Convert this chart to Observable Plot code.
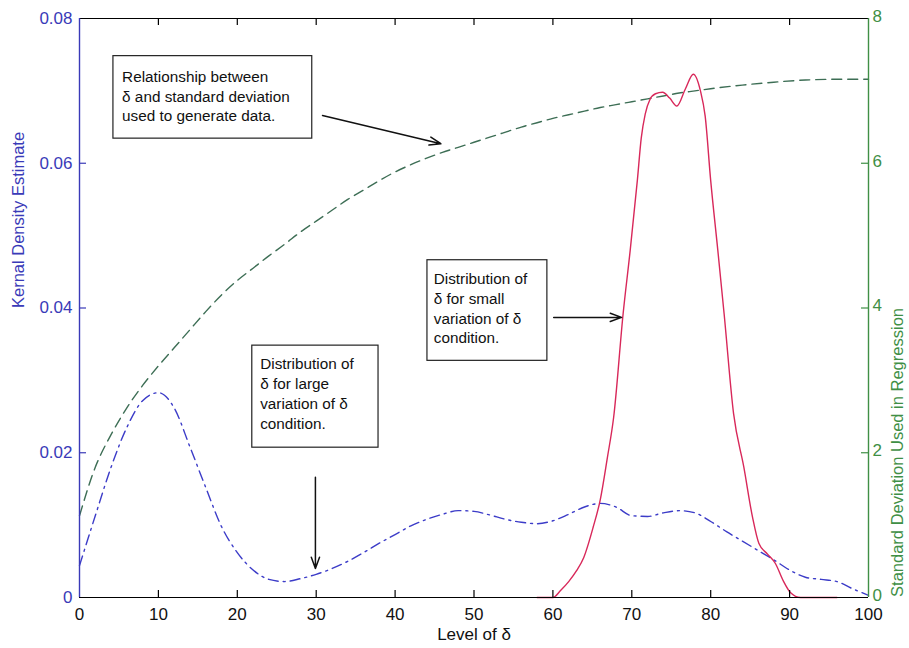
<!DOCTYPE html>
<html><head><meta charset="utf-8">
<script src="https://cdn.jsdelivr.net/npm/d3@7"></script>
<script src="https://cdn.jsdelivr.net/npm/@observablehq/plot@0.6"></script>
<style>body{margin:0;background:#fff} #chart svg{overflow:visible;display:block}</style>
</head><body><div id="chart"></div>
<script>
// ---- data ----
const xTicks = [0,10,20,30,40,50,60,70,80,90,100];
const leftTicks = [0,0.02,0.04,0.06,0.08];
const rightTicks = [0,2,4,6,8];

const greenX = [0,2,4,6,8,10,12,14,16,18,20,22,24,26,28,30,32,34,36,38,40,42,44,46,48,50,52,54,56,58,60,62,64,66,68,70,72,74,76,78,80,84,88,92,96,100];
const greenSD = [1.13,1.8,2.25,2.62,2.93,3.2,3.45,3.7,3.95,4.18,4.38,4.55,4.72,4.88,5.05,5.2,5.35,5.5,5.63,5.76,5.88,5.98,6.07,6.15,6.22,6.29,6.36,6.43,6.5,6.56,6.62,6.67,6.72,6.77,6.81,6.85,6.89,6.93,6.97,7.0,7.03,7.08,7.12,7.15,7.16,7.16];

const blueX = [0,2,4,6,8,10,12,14,16,18,20,22,24,26,28,30,32,34,36,38,40,42,44,46,48,50,52,54,56,58,60,62,64,66,68,70,72,74,76,78,80,82,84,86,88,90,92,94,96,98,100];
const blueY = [0.0044,0.0113,0.018,0.0235,0.0272,0.0283,0.0262,0.0208,0.0152,0.0098,0.0062,0.0038,0.0025,0.0022,0.0026,0.0032,0.0040,0.0050,0.0062,0.0075,0.0087,0.0099,0.0108,0.0115,0.0120,0.0119,0.0114,0.0108,0.0104,0.0102,0.0106,0.0115,0.0125,0.0130,0.0125,0.0113,0.0112,0.0117,0.0120,0.0117,0.0105,0.0091,0.0078,0.0065,0.0052,0.0038,0.0028,0.0025,0.0022,0.0012,0.0003];

const redX = [58,60,61,62,63,63.9,65.1,66,66.9,67.7,68.9,69.8,70.7,71.2,71.7,72.3,73,73.9,74.8,75.7,76.8,77.8,78.7,79.3,80,80.9,81.7,82.9,84.2,85.3,86.1,87.2,88.2,89.2,90.1,91.4,96];
const redY = [0,0,0.001,0.0022,0.0037,0.0055,0.0097,0.0135,0.0193,0.0249,0.0392,0.048,0.0576,0.0635,0.0668,0.0688,0.0696,0.0698,0.0690,0.0679,0.0703,0.0723,0.0700,0.0665,0.0576,0.048,0.0392,0.0254,0.018,0.0111,0.0075,0.006,0.0047,0.0023,0.0007,0,0];

// annotations (data units)
const boxes = [
  {x1: 4.3, x2: 29.5, y1: 0.0634, y2: 0.0748},
  {x1: 44.1, x2: 59.3, y1: 0.0327, y2: 0.0466},
  {x1: 21.9, x2: 37.9, y1: 0.0207, y2: 0.0348}
];
const notes = [
  {x: 5.4, y: 0.0694, text: "Relationship between\nδ and standard deviation\nused to generate data."},
  {x: 44.9, y: 0.0401, text: "Distribution of\nδ for small\nvariation of δ\ncondition."},
  {x: 22.9, y: 0.0283, text: "Distribution of\nδ for large\nvariation of δ\ncondition."}
];
const arrows = [
  {x1: 30.8, y1: 0.0666, x2: 45.8, y2: 0.0627},
  {x1: 60.1, y1: 0.0387, x2: 68.7, y2: 0.0387},
  {x1: 29.9, y1: 0.0166, x2: 29.9, y2: 0.0040}
];

// ---- layout ----
const W = 909, H = 648;
const mL = 79, mR = 41, mT = 18, mB = 51;
const plotW = W - mL - mR, plotH = H - mT - mB;
const yMax = 0.08, sdMax = 8;
const tickY = 7 / plotH * yMax;   // inward tick length in y units
const tickX = 7 / plotW * 100;    // inward tick length in x units

const BLUE = "#3a3ab8", BLUE_LINE = "#3c3cc8", GREEN = "#3f8f45", GREEN_LINE = "#3d6e55", RED = "#d8285a";
const FONT = "'Liberation Sans', Arial, Helvetica, sans-serif";

const green = greenX.map((x, i) => ({x, sd: greenSD[i]}));
const blue = blueX.map((x, i) => ({x, y: blueY[i]}));
const red = redX.map((x, i) => ({x, y: redY[i]}));
const inner = xTicks.slice(1, -1);

const chart = Plot.plot({
  width: W, height: H,
  marginLeft: mL, marginRight: mR, marginTop: mT, marginBottom: mB,
  style: {fontFamily: FONT, fontSize: "17px", background: "#fff"},
  x: {domain: [0, 100]},
  y: {domain: [0, yMax]},
  marks: [
    // curves
    Plot.line(green, {x: "x", y: d => d.sd * yMax / sdMax, stroke: GREEN_LINE, strokeWidth: 1.4, strokeDasharray: "10,6", curve: "monotone-x"}),
    Plot.line(blue, {x: "x", y: "y", stroke: BLUE_LINE, strokeWidth: 1.4, strokeDasharray: "10,5,2,5", curve: "monotone-x"}),
    Plot.line(red, {x: "x", y: "y", stroke: RED, strokeWidth: 1.4, curve: "monotone-x"}),
    // frame
    Plot.ruleY([yMax], {stroke: "#000", strokeWidth: 1.2}),
    Plot.ruleY([0], {stroke: "#000", strokeWidth: 1.2}),
    Plot.ruleX([0], {stroke: BLUE, strokeWidth: 1.4}),
    Plot.ruleX([100], {stroke: GREEN, strokeWidth: 1.4}),
    // inward ticks
    Plot.ruleX(inner, {x: d => d, y1: 0, y2: tickY, stroke: "#000", strokeWidth: 1.2}),
    Plot.ruleX(inner, {x: d => d, y1: yMax, y2: yMax - tickY, stroke: "#000", strokeWidth: 1.2}),
    Plot.ruleY(leftTicks.slice(1, -1), {y: d => d, x1: 0, x2: tickX, stroke: BLUE, strokeWidth: 1.2}),
    Plot.ruleY(rightTicks.slice(1, -1), {y: d => d * yMax / sdMax, x1: 100, x2: 100 - tickX, stroke: GREEN, strokeWidth: 1.2}),
    // axes labels
    Plot.axisX({ticks: xTicks, anchor: "bottom", tickSize: 0, tickPadding: 10, label: null, fontSize: 17, color: "#111"}),
    Plot.axisY({ticks: leftTicks, anchor: "left", tickSize: 0, tickPadding: 7, label: null, fontSize: 17, color: BLUE, tickFormat: d3.format("~g")}),
    Plot.axisY({ticks: rightTicks.map(d => d * yMax / sdMax), anchor: "right", tickSize: 0, tickPadding: 4, label: null, fontSize: 17, color: GREEN, dy: -2, tickFormat: d => d3.format("~g")(Math.round(d * sdMax / yMax))}),
    Plot.text(["Kernal Density Estimate"], {frameAnchor: "left", dx: -61, rotate: -90, fill: BLUE, fontSize: 16.5, text: d => d}),
    Plot.text(["Standard Deviation Used in Regression"], {frameAnchor: "right", dx: 29, rotate: -90, fill: GREEN, fontSize: 16.5, text: d => d}),
    Plot.text(["Level of δ"], {frameAnchor: "bottom", dy: 42, fill: "#111", fontSize: 17, text: d => d}),
    // annotations
    Plot.rect(boxes, {x1: "x1", x2: "x2", y1: "y1", y2: "y2", fill: "#fff", stroke: "#222", strokeWidth: 1.2}),
    Plot.text(notes, {x: "x", y: "y", text: "text", textAnchor: "start", lineAnchor: "middle", lineHeight: 1.3, fontSize: 15.3, fill: "#111"}),
    Plot.arrow(arrows, {x1: "x1", y1: "y1", x2: "x2", y2: "y2", stroke: "#111", strokeWidth: 1.5, headLength: 12, headAngle: 40})
  ]
});
document.getElementById("chart").appendChild(chart);
</script>
</body></html>
